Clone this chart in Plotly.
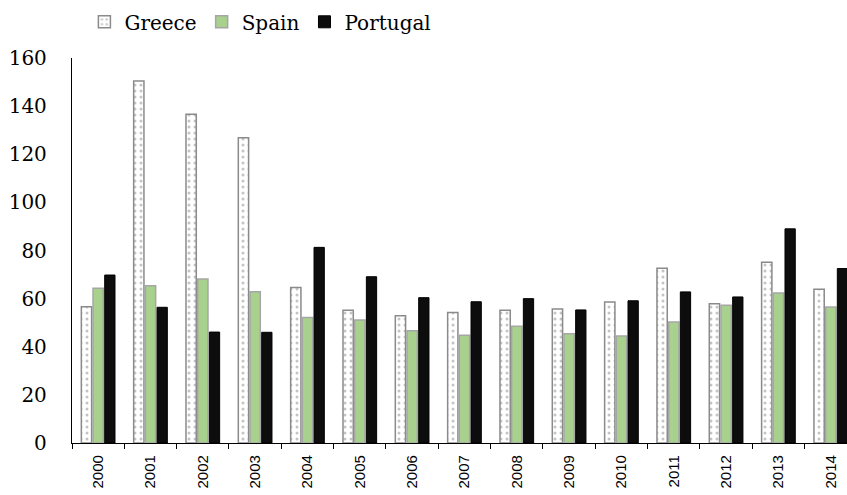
import plotly.graph_objects as go

years = ["2000", "2001", "2002", "2003", "2004", "2005", "2006", "2007",
         "2008", "2009", "2010", "2011", "2012", "2013", "2014"]
greece = [56.6, 150.4, 136.6, 126.9, 64.6, 55.2, 52.9, 54.2, 55.2, 55.7, 58.6, 72.6, 57.9, 75.1, 63.9]
spain = [64.3, 65.4, 68.2, 62.9, 52.2, 51.1, 46.7, 44.8, 48.5, 45.4, 44.5, 50.3, 57.2, 62.3, 56.5]
portugal = [69.8, 56.4, 46.1, 46.0, 81.3, 69.1, 60.4, 58.7, 60.0, 55.3, 59.1, 62.8, 60.7, 89.0, 72.5]

serif = "DejaVu Serif"

fig = go.Figure()
fig.add_trace(go.Bar(
    name="Greece", x=years, y=greece,
    marker=dict(color="white",
                line=dict(color="#8a8a8a", width=1.5),
                pattern=dict(shape=".", fgcolor="#8a8a8a", bgcolor="white",
                             size=6, solidity=0.2)),
))
fig.add_trace(go.Bar(
    name="Spain", x=years, y=spain,
    marker=dict(color="#a9d18e", line=dict(color="#a6a6a6", width=1.5)),
))
fig.add_trace(go.Bar(
    name="Portugal", x=years, y=portugal,
    marker=dict(color="#0d0d0d", line=dict(color="#000000", width=1)),
))

fig.update_layout(
    width=847, height=495,
    margin=dict(l=72, r=0, t=58, b=52),
    paper_bgcolor="white", plot_bgcolor="white",
    barmode="group", bargap=0.33, bargroupgap=0.12,
    showlegend=True,
    legend=dict(orientation="h", x=0.016, xanchor="left", y=1.094, yanchor="middle",
                font=dict(family=serif, size=20, color="black"),
                bgcolor="rgba(0,0,0,0)", traceorder="normal"),
    xaxis=dict(
        type="category", range=[-0.5, 14.31], automargin=False,
        showline=True, linecolor="black", linewidth=1.3,
        ticks="outside", tickson="boundaries", ticklen=5, tickcolor="black", tickwidth=1.3,
        tickangle=-90, showgrid=False, ticklabelstandoff=5,
        tickfont=dict(family="Liberation Sans", size=15, color="black"),
    ),
    yaxis=dict(
        range=[0, 160], tickvals=[0, 20, 40, 60, 80, 100, 120, 140, 160],
        automargin=False,
        showline=True, linecolor="black", linewidth=1.3,
        ticks="", showgrid=False, zeroline=False,
        ticklabelstandoff=20,
        tickfont=dict(family=serif, size=20, color="black"),
    ),
)

fig.write_html("out.html")
